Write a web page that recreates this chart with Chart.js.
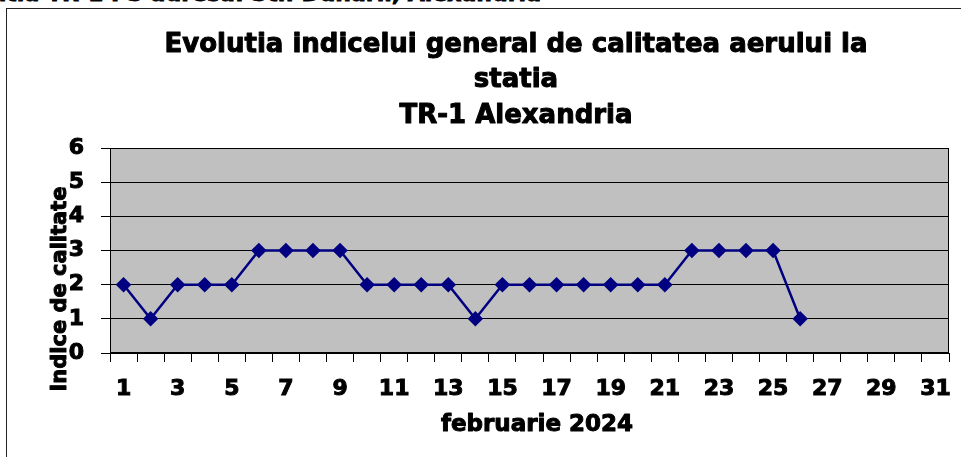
<!DOCTYPE html>
<html>
<head>
<meta charset="utf-8">
<script src="https://cdn.jsdelivr.net/npm/chart.js@4.4.1/dist/chart.umd.min.js"></script>
<style>
    html, body { margin: 0; padding: 0; background: #fff; overflow: hidden; }
    #wrap { position: relative; width: 961px; height: 457px; }
    #frame { position: absolute; left: 6px; top: 8px; width: 980px; height: 480px; border: 1px solid #222; }
    #caption { position: absolute; right: 420px; top: -17px; white-space: nowrap;
        font: bold 22px "DejaVu Sans"; line-height: 22px; color: #000; -webkit-text-stroke: 0.8px #000; }
    #chartBox { position: absolute; left: 0; top: 0; width: 961px; height: 457px; }
</style>
</head>
<body>
<div id="wrap">
    <div id="caption">Statia TR-1 PS adresa: Str. Dunarii, Alexandria</div>
    <div id="frame"></div>
    <div id="chartBox"><canvas id="airChart" width="961" height="457"></canvas></div>
</div>
<script>
const days = ['1', '2', '3', '4', '5', '6', '7', '8', '9', '10', '11', '12', '13', '14', '15', '16',
    '17', '18', '19', '20', '21', '22', '23', '24', '25', '26', '27', '28', '29', '30', '31'];
const indexValues = [2, 1, 2, 2, 2, 3, 3, 3, 3, 2, 2, 2, 2, 1, 2, 2, 2, 2, 2, 2, 2, 3, 3, 3, 3, 1,
    null, null, null, null, null];
const titleLines = ['Evolutia indicelui general de calitatea aerului la', 'statia', 'TR-1 Alexandria'];
const xTitle = 'februarie 2024';
const yTitle = 'Indice de calitate';

const FONT = '"DejaVu Sans", sans-serif';

function heavyText(ctx, text, x, y) {
    ctx.strokeText(text, x, y);
    ctx.fillText(text, x, y);
}

// grey plot background + frame, chart title and axis titles (placed like the original)
const plotDecor = {
    id: 'plotDecor',
    beforeDraw(chart) {
        const { ctx, chartArea: a } = chart;
        ctx.save();
        ctx.fillStyle = '#c0c0c0';
        ctx.fillRect(a.left, a.top, a.right - a.left, a.bottom - a.top);
        ctx.restore();
    },
    afterDatasetsDraw(chart) {
        const { ctx, chartArea: a } = chart;
        ctx.save();
        ctx.strokeStyle = '#000';
        ctx.lineWidth = 1;
        ctx.strokeRect(a.left + 0.5, a.top + 0.5, a.right - a.left - 1, a.bottom - a.top - 1);
        ctx.restore();
    },
    afterDraw(chart) {
        const ctx = chart.ctx;
        ctx.save();
        ctx.fillStyle = '#000';
        ctx.strokeStyle = '#000';
        ctx.lineWidth = 1;
        ctx.lineJoin = 'round';
        ctx.textAlign = 'center';
        ctx.textBaseline = 'middle';
        ctx.font = 'bold 26px ' + FONT;
        const lineY = [45, 80.5, 116.5];
        titleLines.forEach((t, i) => heavyText(ctx, t, 516, lineY[i]));

        ctx.font = 'bold 23px ' + FONT;
        heavyText(ctx, xTitle, 537, 425);

        ctx.translate(61, 289);
        ctx.rotate(-Math.PI / 2);
        ctx.font = 'bold 21px ' + FONT;
        heavyText(ctx, yTitle, 0, 0);
        ctx.restore();
    }
};

const ctx = document.getElementById('airChart').getContext('2d');
new Chart(ctx, {
    type: 'line',
    data: {
        labels: days,
        datasets: [{
            label: 'Indice',
            data: indexValues,
            borderColor: '#000080',
            backgroundColor: '#000080',
            borderWidth: 2.5,
            tension: 0,
            pointStyle: 'rectRot',
            pointRadius: 6,
            pointHoverRadius: 6,
            pointBackgroundColor: '#000080',
            pointBorderColor: '#000080',
            spanGaps: false
        }]
    },
    options: {
        responsive: false,
        animation: false,
        layout: { padding: { left: 50, right: 12, top: 148, bottom: 0 } },
        plugins: {
            legend: { display: false },
            tooltip: { enabled: false },
            title: { display: false }
        },
        scales: {
            x: {
                offset: true,
                afterFit(scale) {
                    scale.height = 104;
                    scale.paddingLeft = 0;
                    scale.paddingRight = 0;
                },
                grid: { offset: true, drawOnChartArea: false, tickLength: 9, color: '#000' },
                border: { color: '#000' },
                ticks: {
                    autoSkip: false,
                    maxRotation: 0,
                    padding: 14,
                    color: '#000',
                    textStrokeColor: '#000',
                    textStrokeWidth: 1,
                    font: { family: FONT, size: 22, weight: 'bold' },
                    callback: (v, i) => (i % 2 === 0 ? days[i] : '')
                }
            },
            y: {
                min: 0,
                max: 6,
                afterFit(scale) {
                    scale.width = 60;
                    scale.paddingTop = 0;
                    scale.paddingBottom = 0;
                },
                grid: { color: '#000', tickLength: 9 },
                border: { color: '#000' },
                ticks: {
                    stepSize: 1,
                    padding: 17,
                    color: '#000',
                    textStrokeColor: '#000',
                    textStrokeWidth: 1,
                    font: { family: FONT, size: 22, weight: 'bold' }
                }
            }
        }
    },
    plugins: [plotDecor]
});
</script>
</body>
</html>
